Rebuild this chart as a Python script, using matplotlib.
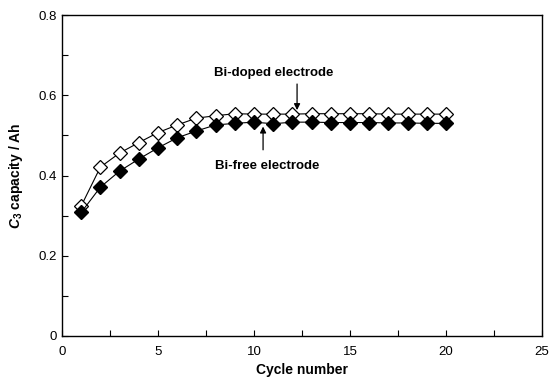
import matplotlib.pyplot as plt
from matplotlib.ticker import MultipleLocator

plt.rcParams['font.family'] = ['Liberation Sans', 'DejaVu Sans']
plt.rcParams['mathtext.fontset'] = 'custom'
plt.rcParams['mathtext.it'] = 'Liberation Sans:italic:bold'
plt.rcParams['mathtext.rm'] = 'Liberation Sans:bold'

# Data
cycles = list(range(1, 21))
bi_doped = [0.324, 0.421, 0.456, 0.482, 0.507, 0.526, 0.543, 0.549, 0.554, 0.553,
            0.553, 0.553, 0.554, 0.554, 0.554, 0.554, 0.553, 0.553, 0.553, 0.553]
bi_free = [0.308, 0.371, 0.411, 0.441, 0.469, 0.494, 0.511, 0.526, 0.530, 0.533,
           0.529, 0.533, 0.533, 0.532, 0.532, 0.532, 0.531, 0.531, 0.530, 0.530]

fig = plt.figure(figsize=(5.5, 3.87), dpi=100)
ax = fig.add_axes([0.1127, 0.1318, 0.873, 0.8294])

ax.plot(cycles, bi_doped, color='black', lw=0.8, marker='D', ms=7,
        mfc='white', mec='black', mew=0.9, zorder=3)
ax.plot(cycles, bi_free, color='black', lw=0.8, marker='D', ms=7,
        mfc='black', mec='black', zorder=4)

ax.set_xlim(0, 25)
ax.set_ylim(0, 0.8)
ax.xaxis.set_major_locator(MultipleLocator(5))
ax.xaxis.set_minor_locator(MultipleLocator(2.5))
ax.yaxis.set_major_locator(MultipleLocator(0.2))
ax.yaxis.set_minor_locator(MultipleLocator(0.1))
ax.yaxis.set_major_formatter(plt.FuncFormatter(lambda v, p: '0' if v == 0 else f'{v:.1f}'))
ax.tick_params(which='both', direction='in', length=4, width=0.8,
               top=False, right=False, labelsize=9.5)
ax.tick_params(axis='x', pad=7)
for s in ax.spines.values():
    s.set_linewidth(1.0)

ax.set_xlabel('Cycle number', fontsize=10, fontweight='bold', labelpad=4)
ax.set_ylabel(r'$C_{\mathrm{3}}$ capacity / Ah', fontsize=10, fontweight='bold', labelpad=10)

ax.annotate('', xy=(12.24, 0.563), xytext=(12.24, 0.628),
            arrowprops=dict(arrowstyle='-|>', color='black', lw=0.9,
                            mutation_scale=9, shrinkA=0, shrinkB=0))
ax.text(11.0, 0.656, 'Bi-doped electrode', fontsize=9.5, fontweight='bold',
        ha='center', va='center')
ax.annotate('', xy=(10.47, 0.522), xytext=(10.47, 0.464),
            arrowprops=dict(arrowstyle='-|>', color='black', lw=0.9,
                            mutation_scale=9, shrinkA=0, shrinkB=0))
ax.text(10.7, 0.424, 'Bi-free electrode', fontsize=9.5, fontweight='bold',
        ha='center', va='center')

fig.savefig('out.png', dpi=100)
